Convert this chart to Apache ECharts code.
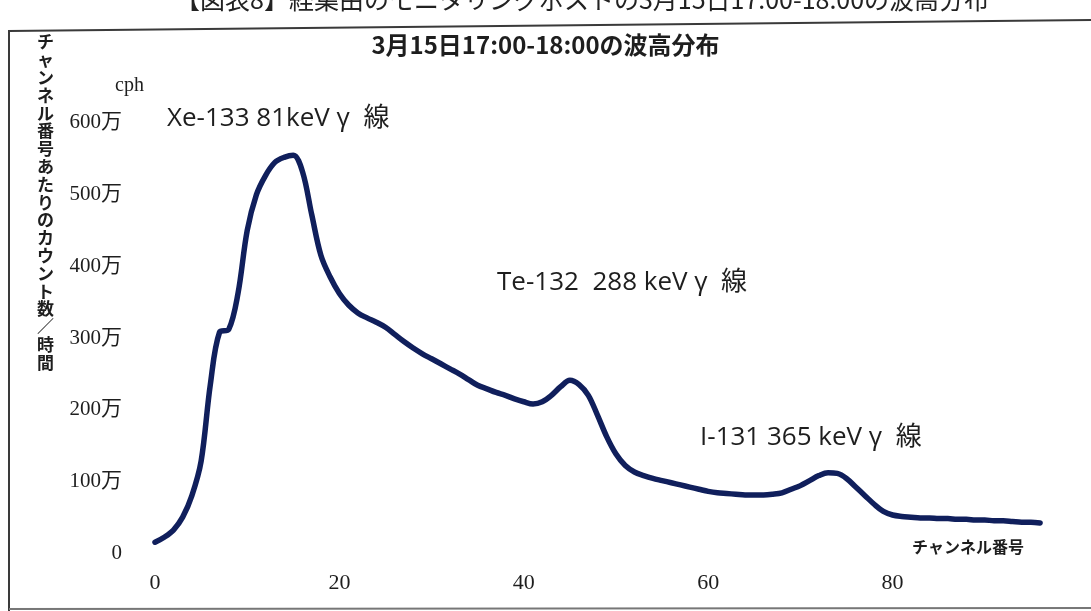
<!DOCTYPE html>
<html>
<head>
<meta charset="utf-8">
<script src="https://cdn.jsdelivr.net/npm/echarts@6/dist/echarts.min.js"></script>
<style>
  html, body { margin: 0; padding: 0; background: #fff; }
  #chart { width: 1091px; height: 611px; }
</style>
</head>
<body>
<div id="chart"></div>
<script>
// Pulse-height spectrum, counts per channel per hour (unit: 万 cph)
const channels = [
  0, 1, 2, 3, 4, 5, 6, 7, 8, 9,
  10, 11, 12, 13, 14, 15, 16, 17, 18, 19,
  20, 21, 22, 23, 24, 25, 26, 27, 28, 29,
  30, 31, 32, 33, 34, 35, 36, 37, 38, 39,
  40, 41, 42, 43, 44, 45, 46, 47, 48, 49,
  50, 51, 52, 53, 54, 55, 56, 57, 58, 59,
  60, 61, 62, 63, 64, 65, 66, 67, 68, 69,
  70, 71, 72, 73, 74, 75, 76, 77, 78, 79,
  80, 81, 82, 83, 84, 85, 86, 87, 88, 89,
  90, 91, 92, 93, 94, 95, 96
];
const counts = [
  15, 22, 32, 50, 80, 128, 235, 308, 312, 362,
  450, 500, 527, 545, 552, 555, 532, 472, 415, 385,
  362, 346, 335, 328, 322, 315, 305, 295, 286, 278,
  271, 264, 257, 250, 242, 234, 229, 224, 220, 215,
  211, 208, 211, 220, 232, 241, 235, 220, 192, 162,
  138, 122, 113, 108, 104, 101, 98, 95, 92, 89,
  86, 84, 83, 82, 81, 81, 81, 82, 84, 89,
  94, 101, 108, 112, 111, 104, 92, 80, 68, 58,
  53, 51, 50, 49, 49, 48, 48, 47, 47, 46,
  46, 45, 45, 44, 43, 43, 42
];
const xTicks = [0, 20, 40, 60, 80];
const yTicks = [0, 100, 200, 300, 400, 500, 600];

const titleText = '3月15日17:00-18:00の波高分布';
const headerText = '【図表8】経集由のモニタリングポストの3月15日17:00-18:00の波高分布';
const yName = 'チャンネル番号あたりのカウント数／時間';
const xName = 'チャンネル番号';
const peaks = ['Xe-133 81keV γ  線', 'Te-132  288 keV γ  線', 'I-131 365 keV γ  線'];

const serif = '"Liberation Serif", "DejaVu Serif", "Noto Sans CJK JP", serif';
const sans = '"Open Sans", "Noto Sans", "Noto Sans CJK JP", sans-serif';
const cjk = '"Noto Sans CJK JP", sans-serif';
const ink = '#1e1e1e';

const chart = echarts.init(document.getElementById('chart'), null, { renderer: 'canvas' });

chart.setOption({
  backgroundColor: '#fff',
  animation: false,
  grid: { left: 155, right: 14, top: 51.3, bottom: 58 },
  xAxis: {
    type: 'value',
    min: 0,
    max: 100,
    interval: 20,
    axisLine: { show: false },
    axisTick: { show: false },
    splitLine: { show: false },
    axisLabel: {
      margin: 19,
      showMaxLabel: false,
      fontFamily: serif,
      fontSize: 22,
      color: ink,
      formatter: v => (xTicks.includes(v) ? String(v) : '')
    }
  },
  yAxis: {
    type: 'value',
    min: 0,
    max: 700,
    interval: 100,
    axisLine: { show: false },
    axisTick: { show: false },
    splitLine: { show: false },
    axisLabel: {
      margin: 33,
      showMaxLabel: false,
      fontFamily: serif,
      fontSize: 21,
      color: ink,
      formatter: v => (yTicks.includes(v) ? (v === 0 ? '0' : v + '万') : '')
    }
  },
  series: [{
    type: 'line',
    data: channels.map((c, i) => [c, counts[i]]),
    smooth: 0.35,
    showSymbol: false,
    lineStyle: { color: '#101f5c', width: 5.5, cap: 'round', join: 'round' }
  }],
  graphic: [
    // scanned page frame
    {
      type: 'polyline',
      shape: { points: [[9, 611], [9, 31], [1091, 20]] },
      style: { stroke: '#3a3a3a', lineWidth: 2, fill: null }
    },
    {
      type: 'line',
      shape: { x1: 9, y1: 609, x2: 1091, y2: 608 },
      style: { stroke: '#777', lineWidth: 2 }
    },
    // page header, cut at the top edge
    {
      type: 'text', left: 175, top: -13,
      style: { text: headerText, font: '25px ' + cjk, fill: '#222' }
    },
    // chart title
    {
      type: 'text', left: 'center', top: 33,
      style: { text: titleText, font: 'bold 24px ' + cjk, fill: ink }
    },
    // vertical y-axis name
    {
      type: 'text', left: 37, top: 33,
      style: {
        text: yName.split('').join('\n'),
        font: 'bold 17px ' + cjk,
        lineHeight: 17.8,
        align: 'center',
        fill: ink
      }
    },
    // unit
    {
      type: 'text', left: 115, top: 76,
      style: { text: 'cph', font: '20px ' + serif, fill: ink }
    },
    // x-axis name
    {
      type: 'text', left: 912, top: 539,
      style: { text: xName, font: 'bold 16px ' + cjk, fill: ink }
    },
    // peak annotations
    {
      type: 'text', x: 167, y: 119,
      style: { text: peaks[0], font: '26px ' + sans, fill: ink, verticalAlign: 'middle' }
    },
    {
      type: 'text', x: 497, y: 283,
      style: { text: peaks[1], font: '26px ' + sans, fill: ink, verticalAlign: 'middle' }
    },
    {
      type: 'text', x: 700, y: 438,
      style: { text: peaks[2], font: '26px ' + sans, fill: ink, verticalAlign: 'middle' }
    }
  ]
});
</script>
</body>
</html>
